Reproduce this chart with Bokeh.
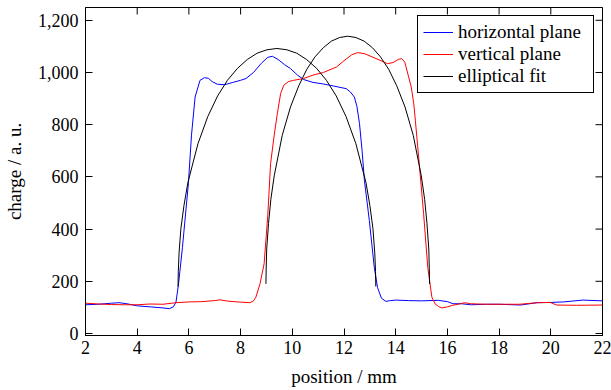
import math
from bokeh.plotting import figure
from bokeh.models import (FixedTicker, NumeralTickFormatter, Range1d,
                          Legend, LegendItem)
from bokeh.embed import file_html
from bokeh.resources import INLINE

# ---- data ----
h_x = [2.0, 2.5, 3.0, 3.3, 3.6, 4.0, 4.5, 5.0, 5.24, 5.4, 5.5, 5.6, 5.75, 5.98, 6.1,
       6.24, 6.43, 6.6, 6.75, 6.9, 7.1, 7.38, 7.7, 8.0, 8.21, 8.5, 8.8, 9.05, 9.23,
       9.45, 9.7, 9.93, 10.2, 10.44, 10.8, 11.2, 11.6, 12.09, 12.25, 12.4, 12.5,
       12.6, 12.7, 12.79, 12.98, 13.17, 13.3, 13.45, 13.62, 13.8, 14.0, 14.5, 15.0,
       15.65, 16.0, 16.22, 16.54, 16.9, 17.5, 18.0, 18.83, 19.47, 20.0, 20.5,
       21.24, 22.0]
h_y = [110, 112, 116, 118, 114, 106, 102, 98, 95, 102, 120, 190, 330, 574, 760,
       906, 970, 980, 978, 965, 955, 953, 962, 970, 977, 1000, 1035, 1058, 1062,
       1050, 1030, 1015, 990, 973, 962, 956, 948, 938, 925, 906, 870,
       804, 700, 587, 433, 254, 175, 135, 123, 126, 128, 126, 125,
       127, 122, 114, 114, 110, 112, 112, 109, 118, 119, 121,
       128, 125]

v_x = [2.0, 2.5, 3.0, 3.5, 4.0, 4.5, 5.0, 5.5, 6.0, 6.5, 7.0, 7.2, 7.5, 8.0, 8.36,
       8.5, 8.59, 8.75, 8.91, 9.05, 9.16, 9.3, 9.42, 9.55, 9.67, 9.85, 10.05, 10.44,
       10.8, 11.2, 11.71, 12.0, 12.3, 12.53, 12.8, 13.2, 13.68, 13.9, 14.1, 14.23,
       14.35, 14.5, 14.6, 14.7, 14.76, 14.91, 15.08, 15.24, 15.4, 15.52, 15.65,
       15.78, 16.0, 16.2, 16.42, 16.67, 16.9, 17.5, 18.0, 18.8, 19.47, 19.98,
       20.23, 21.0, 22.0]
v_y = [116, 113, 111, 110, 110, 113, 112, 118, 121, 122, 126, 129, 124, 120, 118,
       125, 139, 190, 267, 450, 651, 760, 842, 920, 951, 965, 970, 977,
       990, 1000, 1021, 1045, 1068, 1076, 1072, 1055, 1034, 1038, 1050, 1053,
       1040, 983, 945, 880, 817, 651, 459, 254, 139, 114, 104,
       98, 102, 108, 112, 118, 114, 112, 112, 112, 118, 119,
       109, 108, 109]

fh_x = [5.58, 5.59, 5.62, 5.69, 5.81, 5.96, 6.35, 6.73, 7.11, 7.49, 7.88, 8.26,
        8.64, 9.02, 9.405, 9.79, 10.17, 10.55, 10.94, 11.32, 11.70, 12.08, 12.46,
        12.85, 13.00, 13.12, 13.19, 13.22, 13.23]
fh_y = [180, 237, 309, 402, 491, 578, 727, 831, 910, 970, 1016, 1050,
        1074, 1087, 1092, 1087, 1074, 1050, 1016, 970, 910, 831, 727,
        578, 491, 402, 309, 237, 180]

fv_x = [8.98, 8.99, 9.01, 9.08, 9.17, 9.30, 9.61, 9.93, 10.25, 10.56, 10.88, 11.20,
        11.51, 11.83, 12.145, 12.46, 12.78, 13.10, 13.41, 13.73, 14.04, 14.36,
        14.68, 14.99, 15.12, 15.21, 15.28, 15.30, 15.31]
fv_y = [190, 250, 324, 421, 514, 604, 759, 868, 949, 1012, 1060, 1095,
        1120, 1134, 1139, 1134, 1120, 1095, 1060, 1012, 949, 868,
        759, 604, 514, 421, 324, 250, 190]

x_ticks = [2, 4, 6, 8, 10, 12, 14, 16, 18, 20, 22]
y_ticks = [0, 200, 400, 600, 800, 1000, 1200]

series_labels = ["horizontal plane", "vertical plane", "elliptical fit"]

FONT = "Liberation Serif"
FS_TICK = "18px"
FS_TEXT = "19px"

x_range = Range1d(2, 22)
y_range = Range1d(-7.7, 1249)

p = figure(width=611, height=390, output_backend="svg", toolbar_location=None,
           x_range=x_range, y_range=y_range,
           min_border_left=79, min_border_right=9, min_border_top=7,
           min_border_bottom=55, background_fill_color="white",
           border_fill_color="white")
p.grid.visible = False
p.outline_line_color = "black"
p.outline_line_width = 1
p.outline_line_alpha = 1

for ax in (p.xaxis[0], p.yaxis[0]):
    ax.major_tick_in = 7
    ax.major_tick_out = 0
    ax.minor_tick_line_color = None
    ax.axis_line_color = "black"
    ax.major_tick_line_color = "black"
    ax.major_label_text_font = FONT
    ax.major_label_text_font_size = FS_TICK
    ax.major_label_text_color = "black"
    ax.axis_label_text_font = FONT
    ax.axis_label_text_font_size = FS_TEXT
    ax.axis_label_text_font_style = "normal"
    ax.axis_label_text_color = "black"

p.xaxis[0].ticker = FixedTicker(ticks=x_ticks)
p.yaxis[0].ticker = FixedTicker(ticks=y_ticks)
p.yaxis[0].formatter = NumeralTickFormatter(format="0,0")
p.xaxis[0].axis_label = "position / mm"
p.yaxis[0].axis_label = "charge / a. u."
p.xaxis[0].major_label_standoff = 5
p.yaxis[0].major_label_standoff = 7
p.xaxis[0].axis_label_standoff = 9
p.yaxis[0].axis_label_standoff = 10

# mirrored tick marks on the top and right edges (half of each dash is clipped)
p.scatter(x=x_ticks, y=[y_range.end] * len(x_ticks), marker="dash", size=14,
          angle=math.pi / 2, line_color="black", line_width=1)
p.scatter(x=[x_range.end] * len(y_ticks), y=y_ticks, marker="dash", size=14,
          line_color="black", line_width=1)

r_h = p.line(h_x, h_y, line_color="#0000ff", line_width=1)
r_v = p.line(v_x, v_y, line_color="#ff0000", line_width=1)
r_f1 = p.line(fh_x, fh_y, line_color="black", line_width=1)
r_f2 = p.line(fv_x, fv_y, line_color="black", line_width=1)

legend = Legend(items=[LegendItem(label=series_labels[0], renderers=[r_h]),
                       LegendItem(label=series_labels[1], renderers=[r_v]),
                       LegendItem(label=series_labels[2], renderers=[r_f1])],
                location=(332, 242), border_line_color="black", border_line_width=1,
                border_line_alpha=1, padding=5, spacing=0, glyph_width=30,
                glyph_height=22, label_height=22, label_standoff=5,
                label_text_font=FONT, label_text_font_size=FS_TEXT,
                label_text_color="black", margin=0, background_fill_alpha=1,
                label_width=130)
p.add_layout(legend)

open("out.html", "w").write(file_html(p, INLINE))
